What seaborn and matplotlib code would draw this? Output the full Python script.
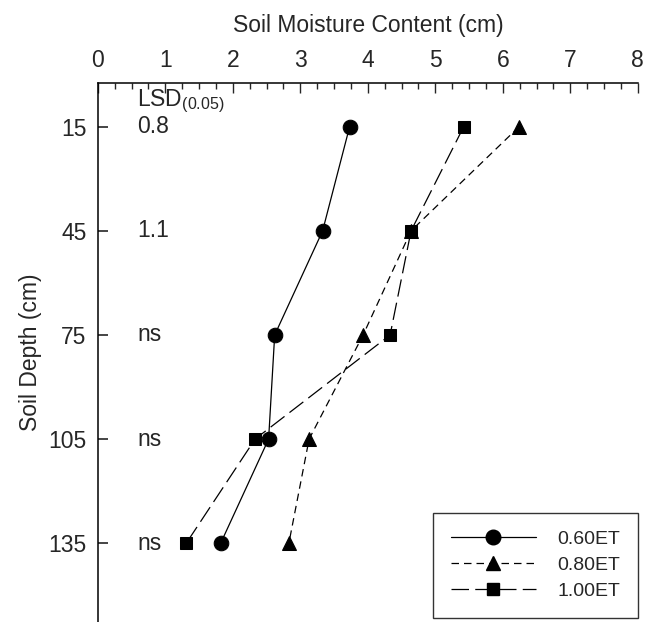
import numpy as np
import pandas as pd
import matplotlib
matplotlib.use("Agg")
import matplotlib.pyplot as plt
from matplotlib.ticker import MultipleLocator
import seaborn as sns

# data
depths = [15, 45, 75, 105, 135]
et060 = [3.73, 3.33, 2.62, 2.53, 1.82]
et080 = [6.24, 4.64, 3.93, 3.13, 2.83]
et100 = [5.42, 4.64, 4.33, 2.33, 1.31]
treatments = ["0.60ET", "0.80ET", "1.00ET"]
lsd_values = ["0.8", "1.1", "ns", "ns", "ns"]

rows = []
for name, vals in zip(treatments, [et060, et080, et100]):
    for d, v in zip(depths, vals):
        rows.append({"treatment": name, "depth": d, "moisture": v})
df = pd.DataFrame(rows)

markers = {"0.60ET": "o", "0.80ET": "^", "1.00ET": "s"}
dashes = {"0.60ET": "", "0.80ET": (6, 4), "1.00ET": (14, 5)}
msizes = {"0.60ET": 10.5, "0.80ET": 10, "1.00ET": 9}

sns.set_style("ticks")
plt.rcParams["font.family"] = ["Liberation Sans", "DejaVu Sans"]
plt.rcParams["mathtext.fontset"] = "custom"
plt.rcParams["mathtext.rm"] = "Liberation Sans"

fig = plt.figure(figsize=(6.61, 6.22), dpi=100)
ax = fig.add_axes([0.148, 0.0, 0.817, 0.8666])

ax = sns.lineplot(data=df, x="moisture", y="depth", hue="treatment", style="treatment",
                  palette=["black"] * 3, markers=markers, dashes=dashes,
                  sort=False, estimator=None, linewidth=0.9, markersize=10,
                  markeredgecolor="black", ax=ax, legend=False)

for line, name in zip(ax.lines, treatments):
    line.set_markersize(msizes[name])

ax.set_xlim(0, 8)
ax.set_ylim(157.7, 2.4)
ax.xaxis.set_ticks_position("top")
ax.xaxis.set_label_position("top")
ax.xaxis.set_major_locator(MultipleLocator(1))
ax.xaxis.set_minor_locator(MultipleLocator(0.25))
ax.set_yticks(depths)
ax.tick_params(axis="x", which="major", direction="in", length=7, width=1, labelsize=16.5, pad=8)
ax.tick_params(axis="x", which="minor", direction="in", length=4, width=1)
ax.tick_params(axis="y", which="major", direction="in", length=7, width=1.2, labelsize=16.5, pad=8)
ax.set_xlabel("Soil Moisture Content (cm)", fontsize=16.5, labelpad=12)
ax.set_ylabel("Soil Depth (cm)", fontsize=16.5, labelpad=5)

for side in ["right", "bottom"]:
    ax.spines[side].set_visible(False)
for side in ["top", "left"]:
    ax.spines[side].set_linewidth(1.1)
    ax.spines[side].set_color("black")

# LSD column
ax.text(0.58, 7.8, r"LSD$_{(0.05)}$", fontsize=16.5, ha="left", va="center")
for d, s in zip(depths, lsd_values):
    ax.text(0.58, d, s, fontsize=16.5, ha="left", va="center")

handles = []
for name in treatments:
    ls = "-" if dashes[name] == "" else (0, dashes[name])
    h, = ax.plot([], [], color="black", linestyle=ls, linewidth=0.9,
                 marker=markers[name], markersize=msizes[name])
    handles.append(h)
leg = ax.legend(handles, treatments, loc="lower right", bbox_to_anchor=(1.0, 0.008),
                handlelength=4.4, handletextpad=1.1, fontsize=14, frameon=True,
                fancybox=False, borderpad=0.9, labelspacing=0.43, borderaxespad=0.0)
leg.get_frame().set_edgecolor("black")
leg.get_frame().set_linewidth(1.0)

fig.savefig("out.png", dpi=100)
